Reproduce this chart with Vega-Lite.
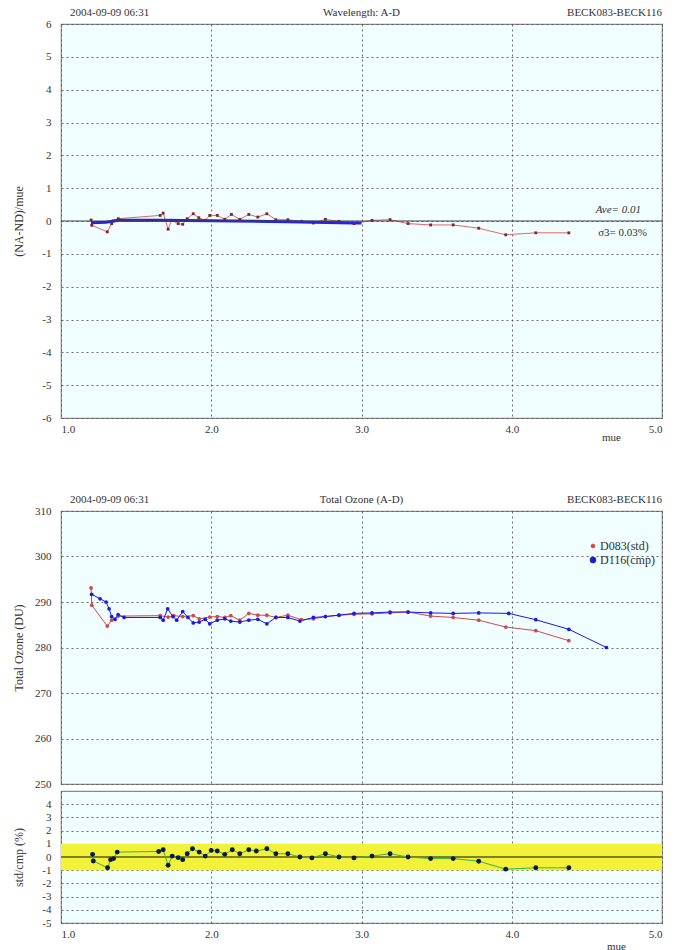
{
  "$schema": "https://vega.github.io/schema/vega-lite/v6.json",
  "padding": {"left": 11, "top": 6, "right": 8, "bottom": 0},
  "background": "white",
  "config": {
    "font": "'Liberation Serif', 'Times New Roman', serif",
    "view": {"fill": "#F0FEFF", "stroke": "#8A8A8A", "strokeWidth": 1.2},
    "axis": {
      "labelFont": "'Liberation Serif', 'Times New Roman', serif", "labelFontSize": 11, "labelColor": "#333333",
      "titleFont": "'Liberation Serif', 'Times New Roman', serif", "titleFontSize": 12, "titleFontWeight": "normal", "titleColor": "#333333",
      "domain": false, "ticks": false, "tickCount": 30,
      "gridColor": "#555555", "gridDash": [2, 3], "gridWidth": 1, "gridOpacity": 0.85
    },
    "axisY": {"minExtent": 30, "maxExtent": 30, "labelPadding": 10, "titlePadding": 6},
    "text": {"font": "'Liberation Serif', 'Times New Roman', serif", "fontSize": 11, "color": "#333333"},
    "legend": {"labelFont": "'Liberation Serif', 'Times New Roman', serif"}
  },
  "datasets": {
    "top_red": [
      {"mue": 1.200, "value": 0.03}, {"mue": 1.205, "value": -0.13}, {"mue": 1.308, "value": -0.33},
      {"mue": 1.337, "value": -0.08}, {"mue": 1.350, "value": 0.0}, {"mue": 1.381, "value": 0.07},
      {"mue": 1.660, "value": 0.17}, {"mue": 1.680, "value": 0.24}, {"mue": 1.713, "value": -0.25},
      {"mue": 1.735, "value": 0.02}, {"mue": 1.780, "value": -0.08}, {"mue": 1.810, "value": -0.10},
      {"mue": 1.840, "value": 0.07}, {"mue": 1.880, "value": 0.22}, {"mue": 1.917, "value": 0.10},
      {"mue": 1.960, "value": 0.02}, {"mue": 1.990, "value": 0.17}, {"mue": 2.040, "value": 0.17},
      {"mue": 2.090, "value": 0.05}, {"mue": 2.134, "value": 0.20}, {"mue": 2.190, "value": 0.05},
      {"mue": 2.250, "value": 0.20}, {"mue": 2.310, "value": 0.12}, {"mue": 2.370, "value": 0.22},
      {"mue": 2.430, "value": 0.04}, {"mue": 2.510, "value": 0.04}, {"mue": 2.600, "value": -0.01},
      {"mue": 2.680, "value": -0.06}, {"mue": 2.760, "value": 0.05}, {"mue": 2.850, "value": -0.01},
      {"mue": 2.950, "value": -0.08}, {"mue": 3.070, "value": 0.02}, {"mue": 3.190, "value": 0.04},
      {"mue": 3.310, "value": -0.08}, {"mue": 3.460, "value": -0.12}, {"mue": 3.610, "value": -0.12},
      {"mue": 3.780, "value": -0.22}, {"mue": 3.960, "value": -0.42}, {"mue": 4.160, "value": -0.36},
      {"mue": 4.380, "value": -0.36}
    ],
    "top_blue": [
      {"mue": 1.20, "value": -0.05}, {"mue": 1.30, "value": -0.04}, {"mue": 1.38, "value": 0.02},
      {"mue": 1.66, "value": 0.02}, {"mue": 2.00, "value": 0.01}, {"mue": 2.50, "value": -0.02},
      {"mue": 2.95, "value": -0.06}, {"mue": 3.00, "value": -0.06}
    ],
    "ozone": [
      {"series": "D083(std)", "mue": 1.200, "value": 293.1}, {"series": "D083(std)", "mue": 1.205, "value": 289.3},
      {"series": "D083(std)", "mue": 1.308, "value": 284.7}, {"series": "D083(std)", "mue": 1.337, "value": 286.0},
      {"series": "D083(std)", "mue": 1.381, "value": 286.9}, {"series": "D083(std)", "mue": 1.660, "value": 287.0},
      {"series": "D083(std)", "mue": 1.713, "value": 286.7}, {"series": "D083(std)", "mue": 1.750, "value": 287.0},
      {"series": "D083(std)", "mue": 1.810, "value": 286.8}, {"series": "D083(std)", "mue": 1.880, "value": 287.0},
      {"series": "D083(std)", "mue": 1.920, "value": 286.3}, {"series": "D083(std)", "mue": 1.990, "value": 286.7},
      {"series": "D083(std)", "mue": 2.040, "value": 286.8}, {"series": "D083(std)", "mue": 2.090, "value": 286.6},
      {"series": "D083(std)", "mue": 2.130, "value": 287.0}, {"series": "D083(std)", "mue": 2.190, "value": 286.0},
      {"series": "D083(std)", "mue": 2.250, "value": 287.5}, {"series": "D083(std)", "mue": 2.310, "value": 287.1},
      {"series": "D083(std)", "mue": 2.370, "value": 287.1}, {"series": "D083(std)", "mue": 2.430, "value": 286.6},
      {"series": "D083(std)", "mue": 2.510, "value": 287.1}, {"series": "D083(std)", "mue": 2.600, "value": 286.1},
      {"series": "D083(std)", "mue": 2.680, "value": 286.3}, {"series": "D083(std)", "mue": 2.760, "value": 286.8},
      {"series": "D083(std)", "mue": 2.850, "value": 287.1}, {"series": "D083(std)", "mue": 2.950, "value": 287.3},
      {"series": "D083(std)", "mue": 3.070, "value": 287.4}, {"series": "D083(std)", "mue": 3.190, "value": 287.6},
      {"series": "D083(std)", "mue": 3.310, "value": 287.8}, {"series": "D083(std)", "mue": 3.460, "value": 286.9},
      {"series": "D083(std)", "mue": 3.610, "value": 286.6}, {"series": "D083(std)", "mue": 3.780, "value": 286.0},
      {"series": "D083(std)", "mue": 3.960, "value": 284.5}, {"series": "D083(std)", "mue": 4.160, "value": 283.7},
      {"series": "D083(std)", "mue": 4.380, "value": 281.5},
      {"series": "D116(cmp)", "mue": 1.204, "value": 291.7}, {"series": "D116(cmp)", "mue": 1.260, "value": 290.7},
      {"series": "D116(cmp)", "mue": 1.300, "value": 290.0}, {"series": "D116(cmp)", "mue": 1.320, "value": 288.5},
      {"series": "D116(cmp)", "mue": 1.337, "value": 286.8}, {"series": "D116(cmp)", "mue": 1.360, "value": 286.2},
      {"series": "D116(cmp)", "mue": 1.380, "value": 287.2}, {"series": "D116(cmp)", "mue": 1.420, "value": 286.6},
      {"series": "D116(cmp)", "mue": 1.660, "value": 286.6}, {"series": "D116(cmp)", "mue": 1.680, "value": 286.0},
      {"series": "D116(cmp)", "mue": 1.710, "value": 288.5}, {"series": "D116(cmp)", "mue": 1.745, "value": 286.8},
      {"series": "D116(cmp)", "mue": 1.770, "value": 286.0}, {"series": "D116(cmp)", "mue": 1.810, "value": 287.9},
      {"series": "D116(cmp)", "mue": 1.845, "value": 286.6}, {"series": "D116(cmp)", "mue": 1.880, "value": 285.4},
      {"series": "D116(cmp)", "mue": 1.920, "value": 285.6}, {"series": "D116(cmp)", "mue": 1.960, "value": 286.2},
      {"series": "D116(cmp)", "mue": 1.990, "value": 285.2}, {"series": "D116(cmp)", "mue": 2.040, "value": 286.0},
      {"series": "D116(cmp)", "mue": 2.090, "value": 286.3}, {"series": "D116(cmp)", "mue": 2.130, "value": 285.8},
      {"series": "D116(cmp)", "mue": 2.190, "value": 285.6}, {"series": "D116(cmp)", "mue": 2.250, "value": 286.0},
      {"series": "D116(cmp)", "mue": 2.310, "value": 286.2}, {"series": "D116(cmp)", "mue": 2.370, "value": 285.2},
      {"series": "D116(cmp)", "mue": 2.430, "value": 286.6}, {"series": "D116(cmp)", "mue": 2.510, "value": 286.6},
      {"series": "D116(cmp)", "mue": 2.590, "value": 285.8}, {"series": "D116(cmp)", "mue": 2.680, "value": 286.6},
      {"series": "D116(cmp)", "mue": 2.760, "value": 286.8}, {"series": "D116(cmp)", "mue": 2.850, "value": 287.1},
      {"series": "D116(cmp)", "mue": 2.950, "value": 287.5}, {"series": "D116(cmp)", "mue": 3.070, "value": 287.6},
      {"series": "D116(cmp)", "mue": 3.190, "value": 287.8}, {"series": "D116(cmp)", "mue": 3.310, "value": 287.8},
      {"series": "D116(cmp)", "mue": 3.460, "value": 287.6}, {"series": "D116(cmp)", "mue": 3.610, "value": 287.5},
      {"series": "D116(cmp)", "mue": 3.780, "value": 287.6}, {"series": "D116(cmp)", "mue": 3.980, "value": 287.5},
      {"series": "D116(cmp)", "mue": 4.160, "value": 286.1}, {"series": "D116(cmp)", "mue": 4.380, "value": 284.0},
      {"series": "D116(cmp)", "mue": 4.630, "value": 280.0}
    ],
    "ratio": [
      {"mue": 1.210, "value": 0.20}, {"mue": 1.215, "value": -0.30}, {"mue": 1.310, "value": -0.82},
      {"mue": 1.330, "value": -0.20}, {"mue": 1.350, "value": -0.12}, {"mue": 1.374, "value": 0.37},
      {"mue": 1.650, "value": 0.42}, {"mue": 1.680, "value": 0.55}, {"mue": 1.713, "value": -0.62},
      {"mue": 1.740, "value": 0.07}, {"mue": 1.780, "value": -0.05}, {"mue": 1.810, "value": -0.20},
      {"mue": 1.840, "value": 0.25}, {"mue": 1.875, "value": 0.62}, {"mue": 1.920, "value": 0.37},
      {"mue": 1.960, "value": 0.07}, {"mue": 2.000, "value": 0.50}, {"mue": 2.040, "value": 0.45},
      {"mue": 2.090, "value": 0.20}, {"mue": 2.140, "value": 0.55}, {"mue": 2.190, "value": 0.25},
      {"mue": 2.250, "value": 0.55}, {"mue": 2.300, "value": 0.45}, {"mue": 2.370, "value": 0.62},
      {"mue": 2.430, "value": 0.25}, {"mue": 2.510, "value": 0.25}, {"mue": 2.590, "value": 0.00},
      {"mue": 2.670, "value": -0.07}, {"mue": 2.760, "value": 0.25}, {"mue": 2.850, "value": 0.00},
      {"mue": 2.950, "value": -0.07}, {"mue": 3.070, "value": 0.07}, {"mue": 3.190, "value": 0.25},
      {"mue": 3.310, "value": 0.00}, {"mue": 3.460, "value": -0.12}, {"mue": 3.610, "value": -0.12},
      {"mue": 3.780, "value": -0.32}, {"mue": 3.960, "value": -0.92}, {"mue": 4.160, "value": -0.82},
      {"mue": 4.380, "value": -0.82}
    ],
    "band": [{"x1": 1, "x2": 5, "lo": -1, "hi": 1}],
    "one": [{"n": 1}]
  },
  "bounds": "flush",
  "spacing": 93,
  "vconcat": [
    {
      "width": 601,
      "height": 394,
      "layer": [
        {
          "data": {"name": "top_red"},
          "mark": {"type": "line", "color": "#E06868", "strokeWidth": 1},
          "encoding": {
            "x": {"field": "mue", "type": "quantitative", "scale": {"domain": [1, 5], "nice": false},
                  "axis": {"values": [1, 2, 3, 4, 5], "format": ".1f", "title": "mue", "grid": true, "labelOverlap": false, "tickCount": 30,
                           "labelPadding": 5, "titleX": 550, "titleY": 19, "titleAlign": "center", "titleBaseline": "middle", "titleFontSize": 11}},
            "y": {"field": "value", "type": "quantitative", "scale": {"domain": [-6, 6], "nice": false},
                  "axis": {"values": [-6, -5, -4, -3, -2, -1, 0, 1, 2, 3, 4, 5, 6], "format": "d", "title": "(NA-ND)/mue", "grid": true,
                           "labelOverlap": false, "tickCount": 30, "labelExpr": "replace(datum.label, '−', '-')"}}
          }
        },
        {
          "data": {"name": "top_red"},
          "mark": {"type": "point", "shape": "square", "filled": true, "size": 8, "color": "#7A2A2A", "opacity": 1},
          "encoding": {"x": {"field": "mue", "type": "quantitative"}, "y": {"field": "value", "type": "quantitative"}}
        },
        {
          "data": {"name": "top_blue"},
          "mark": {"type": "line", "color": "#2424D8", "strokeWidth": 3},
          "encoding": {"x": {"field": "mue", "type": "quantitative"}, "y": {"field": "value", "type": "quantitative"}}
        },
        {
          "data": {"name": "one"},
          "mark": {"type": "rule", "color": "#404040", "strokeWidth": 1},
          "encoding": {"y": {"datum": 0}}
        },
        {
          "data": {"name": "one"},
          "mark": {"type": "text", "align": "left", "baseline": "middle", "dy": -11, "text": "2004-09-09  06:31"},
          "encoding": {"x": {"datum": 1.06}, "y": {"datum": 6}}
        },
        {
          "data": {"name": "one"},
          "mark": {"type": "text", "align": "center", "baseline": "middle", "dy": -11, "text": "Wavelength: A-D"},
          "encoding": {"x": {"datum": 3}, "y": {"datum": 6}}
        },
        {
          "data": {"name": "one"},
          "mark": {"type": "text", "align": "right", "baseline": "middle", "dy": -11, "text": "BECK083-BECK116"},
          "encoding": {"x": {"datum": 5}, "y": {"datum": 6}}
        },
        {
          "data": {"name": "one"},
          "mark": {"type": "text", "align": "right", "baseline": "middle", "text": "Ave= 0.01", "fontStyle": "italic"},
          "encoding": {"x": {"datum": 4.86}, "y": {"datum": 0.33}}
        },
        {
          "data": {"name": "one"},
          "mark": {"type": "text", "align": "right", "baseline": "middle", "text": "σ3= 0.03%"},
          "encoding": {"x": {"datum": 4.9}, "y": {"datum": -0.36}}
        }
      ]
    },
    {
      "bounds": "flush",
      "spacing": 7,
      "vconcat": [
        {
          "width": 601,
          "height": 273,
          "layer": [
            {
              "data": {"name": "ozone"},
              "mark": {"type": "line", "strokeWidth": 1},
              "encoding": {
                "x": {"field": "mue", "type": "quantitative", "scale": {"domain": [1, 5], "nice": false},
                      "axis": {"values": [1, 2, 3, 4, 5], "labels": false, "title": null, "grid": true, "tickCount": 30}},
                "y": {"field": "value", "type": "quantitative", "scale": {"domain": [250, 310], "nice": false},
                      "axis": {"values": [250, 260, 270, 280, 290, 300, 310], "format": "d", "title": "Total Ozone (DU)", "grid": true, "labelOverlap": false, "tickCount": 30}},
                "color": {"field": "series", "type": "nominal",
                          "scale": {"domain": ["D083(std)", "D116(cmp)"], "range": ["#D24848", "#1A1AE0"]},
                          "legend": {"title": null, "orient": "none", "legendX": 526, "legendY": 516,
                                     "labelFontSize": 12, "labelColor": "#333333", "symbolType": "circle",
                                     "symbolSize": 14, "rowPadding": 0, "labelOffset": 1}},
                "strokeWidth": {"field": "series", "type": "nominal", "scale": {"domain": ["D083(std)", "D116(cmp)"], "range": [1, 2.6]}, "legend": null}
              }
            },
            {
              "data": {"name": "ozone"},
              "mark": {"type": "point", "filled": true, "size": 14, "opacity": 1, "shape": "circle"},
              "encoding": {
                "x": {"field": "mue", "type": "quantitative"},
                "y": {"field": "value", "type": "quantitative"},
                "color": {"field": "series", "type": "nominal"}
              }
            },
            {
              "data": {"name": "one"},
              "mark": {"type": "text", "align": "left", "baseline": "middle", "dy": -11, "text": "2004-09-09  06:31"},
              "encoding": {"x": {"datum": 1.06}, "y": {"datum": 310}}
            },
            {
              "data": {"name": "one"},
              "mark": {"type": "text", "align": "center", "baseline": "middle", "dy": -11, "text": "Total Ozone (A-D)"},
              "encoding": {"x": {"datum": 3}, "y": {"datum": 310}}
            },
            {
              "data": {"name": "one"},
              "mark": {"type": "text", "align": "right", "baseline": "middle", "dy": -11, "text": "BECK083-BECK116"},
              "encoding": {"x": {"datum": 5}, "y": {"datum": 310}}
            }
          ]
        },
        {
          "width": 601,
          "height": 132,
          "layer": [
            {
              "data": {"name": "band"},
              "mark": {"type": "rect", "color": "#F2F23A", "opacity": 1},
              "encoding": {
                "x": {"field": "x1", "type": "quantitative", "scale": {"domain": [1, 5], "nice": false},
                      "axis": {"values": [1, 2, 3, 4, 5], "format": ".1f", "title": "mue", "grid": true, "labelOverlap": false, "tickCount": 30,
                               "labelPadding": 5, "titleX": 555, "titleY": 23, "titleAlign": "center", "titleBaseline": "middle", "titleFontSize": 11}},
                "x2": {"field": "x2"},
                "y": {"field": "lo", "type": "quantitative", "scale": {"domain": [-5, 5], "nice": false},
                      "axis": {"values": [-5, -4, -3, -2, -1, 0, 1, 2, 3, 4], "format": "d", "title": "std/cmp (%)", "grid": true,
                               "labelOverlap": false, "tickCount": 30, "labelExpr": "replace(datum.label, '−', '-')"}},
                "y2": {"field": "hi"}
              }
            },
            {
              "data": {"name": "one"},
              "mark": {"type": "rule", "color": "#5A5A20", "strokeWidth": 1.5},
              "encoding": {"y": {"datum": 0}}
            },
            {
              "data": {"name": "ratio"},
              "mark": {"type": "line", "color": "#3CB43C", "strokeWidth": 1},
              "encoding": {"x": {"field": "mue", "type": "quantitative"}, "y": {"field": "value", "type": "quantitative"}}
            },
            {
              "data": {"name": "ratio"},
              "mark": {"type": "point", "shape": "circle", "filled": true, "size": 24, "color": "#0A1A4A", "opacity": 1},
              "encoding": {"x": {"field": "mue", "type": "quantitative"}, "y": {"field": "value", "type": "quantitative"}}
            }
          ]
        }
      ]
    }
  ]
}
